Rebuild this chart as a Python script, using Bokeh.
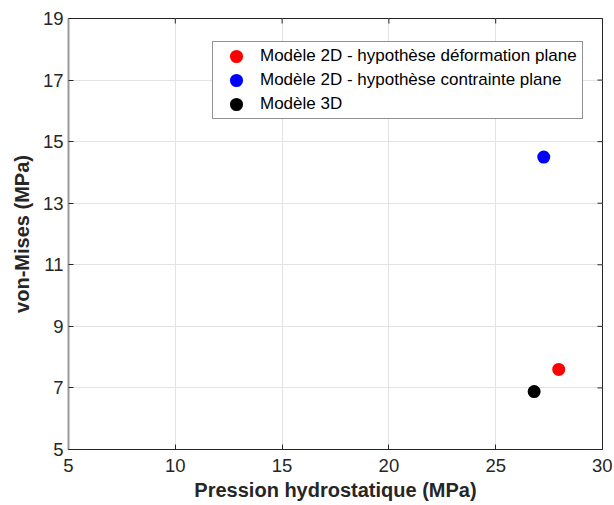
import math
from bokeh.plotting import figure
from bokeh.models import Range1d, Legend, LegendItem, FixedTicker
from bokeh.embed import file_html
from bokeh.resources import INLINE

# Data
series_names = ["Modèle 2D - hypothèse déformation plane",
                "Modèle 2D - hypothèse contrainte plane",
                "Modèle 3D"]
pression = [27.95, 27.25, 26.8]
von_mises = [7.6, 14.5, 6.88]
colors = ["#ff0000", "#0000ff", "#000000"]
x_ticks = [5, 10, 15, 20, 25, 30]
y_ticks = [5, 7, 9, 11, 13, 15, 17, 19]
x_min, x_max = 5, 30
y_min, y_max = 5, 19

FONT = "Liberation Sans"
TXT = "#262626"

p = figure(width=612, height=503, output_backend="svg", toolbar_location=None,
           x_range=Range1d(x_min, x_max), y_range=Range1d(y_min, y_max),
           min_border_left=68, min_border_right=10, min_border_top=18, min_border_bottom=53)
p.background_fill_color = "white"
p.border_fill_color = "white"
p.outline_line_color = "#262626"

for ax, ticks in ((p.xaxis[0], x_ticks), (p.yaxis[0], y_ticks)):
    ax.ticker = FixedTicker(ticks=ticks)
    ax.major_tick_in = 5
    ax.major_tick_out = 0
    ax.minor_tick_line_color = None
    ax.major_label_text_font = FONT
    ax.major_label_text_font_size = "18.5px"
    ax.major_label_text_color = TXT
    ax.axis_label_text_font = FONT
    ax.axis_label_text_font_size = "20px"
    ax.axis_label_text_font_style = "bold"
    ax.axis_label_text_color = TXT
    ax.axis_line_color = "#262626"
    ax.major_tick_line_color = "#262626"

p.xaxis[0].axis_label = "Pression hydrostatique (MPa)"
p.yaxis[0].axis_label = "von-Mises (MPa)"
p.xaxis[0].major_label_standoff = 9
p.xaxis[0].axis_label_standoff = 4
p.yaxis[0].major_label_standoff = 5
p.yaxis[0].axis_label_standoff = 7
p.yaxis[0].axis_line_color = "#999999"
p.yaxis[0].axis_line_width = 2

p.xgrid.ticker = FixedTicker(ticks=x_ticks)
p.ygrid.ticker = FixedTicker(ticks=y_ticks)
p.grid.grid_line_color = "#e3e3e3"
p.grid.grid_line_width = 1

# inward ticks on the right and top edges of the box (half of each dash is clipped)
p.scatter([x_max] * len(y_ticks), y_ticks, marker="dash", size=10,
          line_color="#262626", line_width=1)
p.scatter(x_ticks, [y_max] * len(x_ticks), marker="dash", size=10, angle=math.pi / 2,
          line_color="#262626", line_width=1)

items = []
for i in range(3):
    r = p.scatter([pression[i]], [von_mises[i]], size=9.5, color=colors[i],
                  line_color=colors[i], line_width=3.5)
    items.append(LegendItem(label=series_names[i], renderers=[r]))

legend = Legend(items=items, location=(144, 330))
legend.label_text_font = FONT
legend.label_text_font_size = "17px"
legend.label_text_color = "#000000"
legend.border_line_color = "#262626"
legend.border_line_width = 1
legend.padding = dict(left=3, right=5, top=2, bottom=2)
legend.spacing = 0
legend.glyph_width = 40
legend.glyph_height = 24
legend.label_height = 24
legend.label_standoff = 4
legend.label_width = 317
legend.margin = 0
p.add_layout(legend, "center")

open("out.html", "w").write(file_html(p, INLINE))
